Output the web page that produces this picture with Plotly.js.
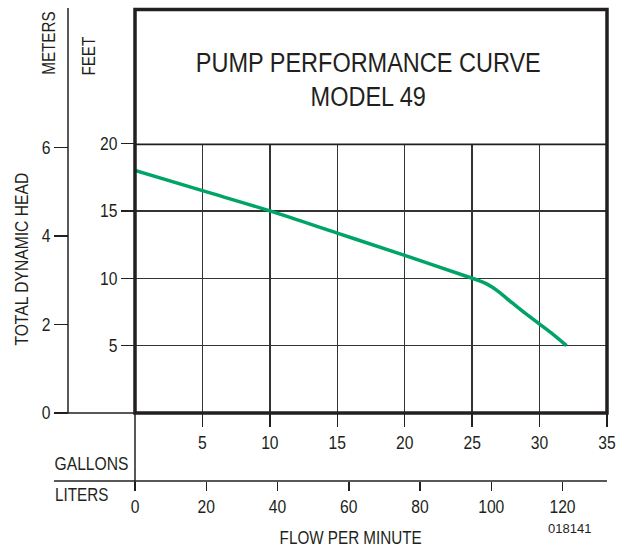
<!DOCTYPE html>
<html>
<head>
<meta charset="utf-8">
<script src="https://cdn.plot.ly/plotly-3.0.1.min.js"></script>
<style>html,body{margin:0;padding:0;background:#fff;}#chart{width:622px;height:549px;}</style>
</head>
<body>
<div id="chart"></div>
<script>
// ---- data ----
const flowGallons = [0, 5, 10, 15, 20, 25, 25.5, 26, 26.5, 27, 28, 29, 30, 31, 32];
const headFeet    = [18.0, 16.5, 15.0, 13.35, 11.7, 10.0, 9.83, 9.62, 9.33, 8.97, 8.15, 7.35, 6.6, 5.84, 5.0];
const gallonTicks = [5, 10, 15, 20, 25, 30, 35];
const literTicks  = [0, 20, 40, 60, 80, 100, 120];
const feetTicks   = [5, 10, 15, 20];
const meterTicks  = [0, 2, 4, 6];
const titleLines  = ["PUMP PERFORMANCE CURVE", "MODEL 49"];
const drawingNo   = "018141";

// ---- unit conversions ----
const LITERS_PER_GALLON = 3.78541;
const METERS_PER_FOOT = 0.3048;
const GALLON_MAX = 35, FEET_MAX = 20;

// ---- geometry (pixels) ----
const W = 622, H = 549;
const X0 = 135, X1 = 607, YTOP = 9.5, Y0 = 413, Y20 = 143.5, YL = 481, XM = 68, XLEFT = 54;
const px = v => v / W;
const py = v => 1 - v / H;

const ink = '#231f20';
const green = '#00a466';
const fam = 'Liberation Sans, Arial, Helvetica, sans-serif';
const CONDENSE = 0.87;   // horizontal squeeze to mimic the condensed typeface
const tickFont = {family: fam, size: 18, color: ink};
const labelFont = {family: fam, size: 17.5, color: ink};

const traces = [
  {x: flowGallons, y: headFeet, xaxis: 'x', yaxis: 'y', type: 'scatter', mode: 'lines',
   line: {color: green, width: 3.5, shape: 'spline', smoothing: 1}, hoverinfo: 'skip'},
  {x: [], y: [], xaxis: 'x2', yaxis: 'y2', type: 'scatter', mode: 'lines', hoverinfo: 'skip'}
];

const titleY = [63, 97.5];
const axStyle = {ticks: 'outside', tickwidth: 1.5, tickcolor: ink, zeroline: false, showline: false,
                 tickfont: tickFont, fixedrange: true, tickmode: 'array'};

const layout = {
  width: W, height: H,
  margin: {l: 0, r: 0, t: 0, b: 0},
  paper_bgcolor: '#ffffff', plot_bgcolor: 'rgba(0,0,0,0)',
  showlegend: false,
  xaxis: Object.assign({}, axStyle, {domain: [px(X0), px(X1)], range: [0, GALLON_MAX], anchor: 'y',
          tickvals: gallonTicks, ticktext: gallonTicks.map(String), ticklen: 13,
          showgrid: true, gridcolor: '#333333', gridwidth: 1.4}),
  yaxis: Object.assign({}, axStyle, {domain: [py(Y0), py(Y20)], range: [0, FEET_MAX], anchor: 'x',
          tickvals: feetTicks, ticktext: feetTicks.map(String), ticklen: 13,
          showgrid: true, gridcolor: '#333333', gridwidth: 1.4}),
  xaxis2: Object.assign({}, axStyle, {overlaying: 'x', anchor: 'free', position: py(YL), side: 'bottom',
           range: [0, GALLON_MAX * LITERS_PER_GALLON],
           tickvals: literTicks, ticktext: literTicks.map(String), ticklen: 9, showgrid: false}),
  yaxis2: Object.assign({}, axStyle, {overlaying: 'y', anchor: 'free', position: px(XM), side: 'left',
           range: [0, FEET_MAX * METERS_PER_FOOT],
           tickvals: meterTicks, ticktext: meterTicks.map(String), ticklen: 14, showgrid: false}),
  shapes: [
    {type: 'rect', xref: 'paper', yref: 'paper', x0: px(X0), x1: px(X1), y0: py(Y0), y1: py(YTOP),
     line: {color: ink, width: 3.5}, layer: 'above'},
    {type: 'line', xref: 'paper', yref: 'y', x0: px(X0), x1: px(X1), y0: FEET_MAX, y1: FEET_MAX,
     line: {color: ink, width: 3.5}, layer: 'above'},
    {type: 'line', xref: 'paper', yref: 'paper', x0: px(XM), x1: px(XM), y0: py(Y0), y1: py(8),
     line: {color: ink, width: 1.5}},
    {type: 'line', xref: 'paper', yref: 'paper', x0: px(XLEFT), x1: px(X0), y0: py(Y0), y1: py(Y0),
     line: {color: ink, width: 1.5}},
    {type: 'line', xref: 'paper', yref: 'paper', x0: px(X0), x1: px(X0), y0: py(Y0), y1: py(490),
     line: {color: ink, width: 1.5}},
    {type: 'line', xref: 'paper', yref: 'paper', x0: px(XLEFT), x1: px(X1), y0: py(YL), y1: py(YL),
     line: {color: ink, width: 1.5}}
  ],
  annotations: titleLines.map((t, i) => ({
      text: t, xref: 'paper', yref: 'paper', x: px(368), y: py(titleY[i]),
      xanchor: 'center', yanchor: 'middle', showarrow: false,
      font: {family: fam, size: 27, color: ink}})).concat([
    {text: 'TOTAL DYNAMIC HEAD', xref: 'paper', yref: 'paper', x: px(21.5), y: py(259),
     textangle: -90, xanchor: 'center', yanchor: 'middle', showarrow: false,
     font: {family: fam, size: 18, color: ink}},
    {text: 'METERS', xref: 'paper', yref: 'paper', x: px(49), y: py(43.5),
     textangle: -90, xanchor: 'center', yanchor: 'middle', showarrow: false, font: labelFont},
    {text: 'FEET', xref: 'paper', yref: 'paper', x: px(88), y: py(56.5),
     textangle: -90, xanchor: 'center', yanchor: 'middle', showarrow: false, font: labelFont},
    {text: 'GALLONS', xref: 'paper', yref: 'paper', x: px(91), y: py(464),
     xanchor: 'center', yanchor: 'middle', showarrow: false, font: {family: fam, size: 18, color: ink}},
    {text: 'LITERS', xref: 'paper', yref: 'paper', x: px(82), y: py(494.5),
     xanchor: 'center', yanchor: 'middle', showarrow: false, font: labelFont},
    {text: 'FLOW PER MINUTE', xref: 'paper', yref: 'paper', x: px(350.5), y: py(537.5),
     xanchor: 'center', yanchor: 'middle', showarrow: false, font: labelFont},
    {text: drawingNo, xref: 'paper', yref: 'paper', x: px(569), y: py(528),
     xanchor: 'center', yanchor: 'middle', showarrow: false,
     font: {family: fam, size: 13, color: ink}}
  ])
};

Plotly.newPlot('chart', traces, layout, {staticPlot: true, displayModeBar: false}).then(gd => {
  gd.querySelectorAll('svg text').forEach(t => {
    if (t.textContent === drawingNo) return;
    const L = t.getComputedTextLength();
    if (L > 0) {
      t.setAttribute('lengthAdjust', 'spacingAndGlyphs');
      t.setAttribute('textLength', (L * CONDENSE).toFixed(2));
    }
  });
});
</script>
</body>
</html>
